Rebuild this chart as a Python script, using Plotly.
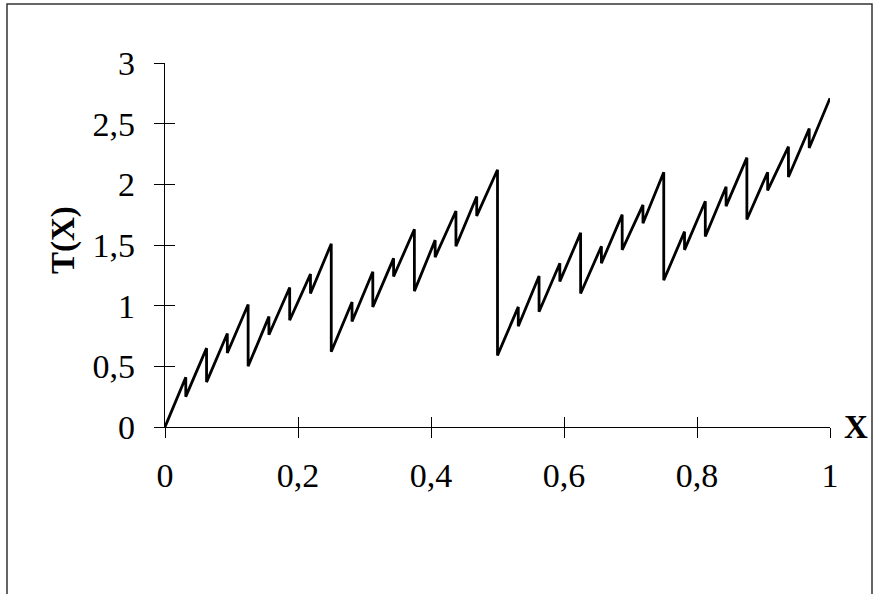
import plotly.graph_objects as go

# Dyadic break points (x = k/32) of the curve
X_KNOTS = [0, 0.03125, 0.0625, 0.09375, 0.125, 0.15625, 0.1875, 0.21875,
           0.25, 0.28125, 0.3125, 0.34375, 0.375, 0.40625, 0.4375, 0.46875,
           0.5, 0.53125, 0.5625, 0.59375, 0.625, 0.65625, 0.6875, 0.71875,
           0.75, 0.78125, 0.8125, 0.84375, 0.875, 0.90625, 0.9375, 0.96875, 1.0]

# value just after each break point (start of each piece)
SEG_START = [0.00, 0.25, 0.37, 0.61, 0.50, 0.76, 0.88, 1.10,
             0.62, 0.87, 0.99, 1.24, 1.12, 1.40, 1.49, 1.74,
             0.59, 0.83, 0.95, 1.20, 1.10, 1.35, 1.46, 1.68,
             1.21, 1.46, 1.57, 1.82, 1.71, 1.95, 2.06, 2.30]
# value just before the next break point (end of each piece)
SEG_END = [0.41, 0.65, 0.77, 1.01, 0.91, 1.15, 1.26, 1.51,
           1.03, 1.28, 1.39, 1.63, 1.54, 1.78, 1.90, 2.12,
           0.99, 1.245, 1.35, 1.60, 1.49, 1.75, 1.83, 2.10,
           1.61, 1.86, 1.98, 2.22, 2.10, 2.31, 2.46, 2.71]

X_TICKS = [0, 0.2, 0.4, 0.6, 0.8, 1]
X_TICK_TEXT = ["0", "0,2", "0,4", "0,6", "0,8", "1"]
Y_TICKS = [0, 0.5, 1, 1.5, 2, 2.5, 3]
Y_TICK_TEXT = ["0", "0,5", "1", "1,5", "2", "2,5", "3"]

xs, ys = [], []
for k in range(len(SEG_START)):
    xs += [X_KNOTS[k], X_KNOTS[k + 1]]
    ys += [SEG_START[k], SEG_END[k]]

FONT = "Liberation Serif"
W, H = 874, 594
L, R, T, B = 165, 44, 63, 167
PW, PH = W - L - R, H - T - B

fig = go.Figure()
fig.add_trace(go.Scatter(x=xs, y=ys, mode="lines",
                         line=dict(color="black", width=2.8),
                         hoverinfo="skip", showlegend=False))
# invisible traces on the overlay axes (inner half of the crossing ticks)
fig.add_trace(go.Scatter(x=[0], y=[0], xaxis="x2", yaxis="y", mode="markers",
                         marker=dict(opacity=0), showlegend=False, hoverinfo="skip"))
fig.add_trace(go.Scatter(x=[0], y=[0], xaxis="x", yaxis="y2", mode="markers",
                         marker=dict(opacity=0), showlegend=False, hoverinfo="skip"))

axis_common = dict(showgrid=False, zeroline=False, showline=True,
                   linecolor="black", linewidth=1.3, ticklen=10, tickwidth=1.3,
                   tickcolor="black")

fig.update_layout(
    width=W, height=H,
    margin=dict(l=L, r=R, t=T, b=B),
    paper_bgcolor="white", plot_bgcolor="white",
    font=dict(family=FONT, color="black", size=28),
    xaxis=dict(range=[0, 1], tickvals=X_TICKS, ticktext=X_TICK_TEXT,
               ticks="outside", ticklabelstandoff=8,
               tickfont=dict(family=FONT, size=34, color="black"),
               **axis_common),
    yaxis=dict(range=[0, 3], tickvals=Y_TICKS, ticktext=Y_TICK_TEXT,
               ticks="outside", ticklabelstandoff=12,
               tickfont=dict(family=FONT, size=34, color="black"),
               **axis_common),
    xaxis2=dict(range=[0, 1], tickvals=X_TICKS, ticks="inside",
                showticklabels=False, overlaying="x", anchor="y",
                side="bottom", **axis_common),
    yaxis2=dict(range=[0, 3], tickvals=Y_TICKS, ticks="inside",
                showticklabels=False, overlaying="y", anchor="x",
                side="left", **axis_common),
    annotations=[
        dict(text="<b>X</b>", xref="paper", yref="paper", x=(856 - L) / PW,
             y=0, xanchor="center", yanchor="middle", showarrow=False,
             font=dict(family=FONT, size=33, color="black")),
        dict(text="<b>T(X)</b>", xref="paper", yref="paper",
             x=(63 - L) / PW, y=(H - B - 240) / PH,
             xanchor="center", yanchor="middle", textangle=-90, showarrow=False,
             font=dict(family=FONT, size=33, color="black")),
    ],
    shapes=[
        dict(type="rect", xref="paper", yref="paper",
             x0=(7 - L) / PW, x1=(872 - L) / PW,
             y0=(H - B - 600) / PH, y1=(H - B - 4) / PH,
             line=dict(color="#333333", width=1.5), fillcolor="rgba(0,0,0,0)"),
    ],
)

fig.write_html("out.html", config={"displayModeBar": False},
               post_script="document.body.style.margin='0px';document.body.style.overflow='hidden';")
